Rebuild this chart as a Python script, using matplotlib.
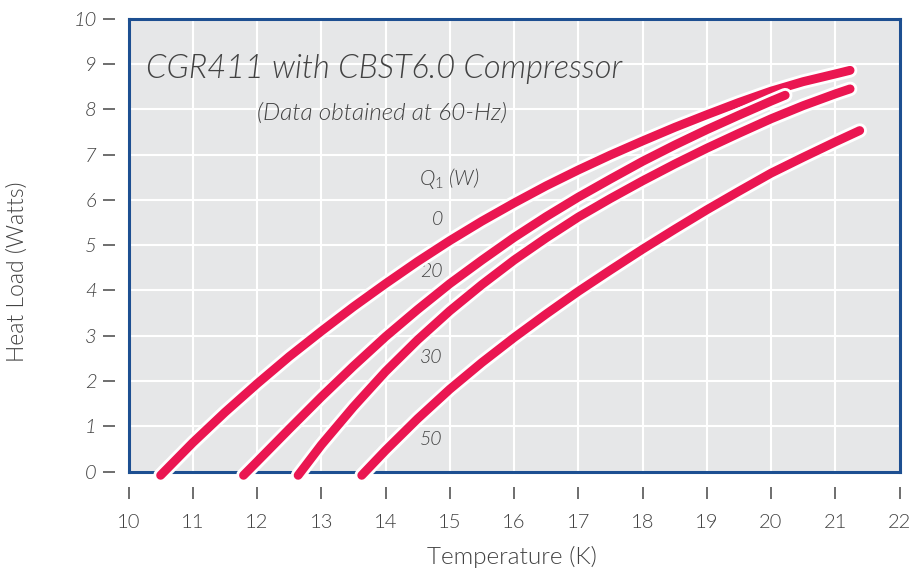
import matplotlib
matplotlib.use("Agg")
import matplotlib.pyplot as plt
import matplotlib.patheffects as pe

# Heat load curves (temperature K, heat load W)
t_q0 = [10.50, 11, 11.5, 12, 12.5, 13, 13.5, 14, 14.5, 15, 15.5, 16, 16.5,
        17, 17.5, 18, 18.5, 19, 19.5, 20, 20.5, 21, 21.23]
h_q0 = [-0.08, 0.64, 1.31, 1.94, 2.54, 3.10, 3.64, 4.15, 4.64, 5.10, 5.53,
        5.93, 6.31, 6.66, 6.99, 7.30, 7.60, 7.88, 8.15, 8.40, 8.61, 8.78, 8.86]

t_q20 = [11.79, 12, 12.5, 13, 13.5, 14, 14.5, 15, 15.5, 16, 16.5, 17, 17.5,
         18, 18.5, 19, 19.5, 20, 20.22]
h_q20 = [-0.08, 0.22, 0.94, 1.65, 2.33, 2.98, 3.58, 4.15, 4.67, 5.17, 5.63,
         6.06, 6.46, 6.85, 7.21, 7.55, 7.87, 8.18, 8.31]

t_q30 = [12.64, 13, 13.5, 14, 14.5, 15, 15.5, 16, 16.5, 17, 17.5, 18, 18.5,
         19, 19.5, 20, 20.5, 21, 21.23]
h_q30 = [-0.08, 0.59, 1.43, 2.21, 2.91, 3.55, 4.13, 4.67, 5.16, 5.62, 6.03,
         6.42, 6.79, 7.14, 7.47, 7.79, 8.08, 8.34, 8.45]

t_q50 = [13.63, 14, 14.5, 15, 15.5, 16, 16.5, 17, 17.5, 18, 18.5, 19, 19.5,
         20, 20.5, 21, 21.38]
h_q50 = [-0.08, 0.47, 1.17, 1.82, 2.41, 2.96, 3.48, 3.98, 4.45, 4.91, 5.35,
         5.78, 6.19, 6.59, 6.94, 7.28, 7.53]

curve_labels = ["0", "20", "30", "50"]
label_y = [5.56, 4.41, 2.53, 0.72]

x_ticks = list(range(10, 23))
y_ticks = list(range(0, 11))

FONT = "Lato"
GRAY = "#424242"
RED = "#ea1651"
BLUE = "#1d4f91"

plt.rcParams["font.family"] = [FONT, "DejaVu Sans"]
plt.rcParams["font.weight"] = 300
plt.rcParams["mathtext.fontset"] = "custom"
plt.rcParams["mathtext.it"] = FONT + ":italic"
plt.rcParams["mathtext.rm"] = FONT

fig = plt.figure(figsize=(9.14, 5.73), dpi=100)
ax = fig.add_axes([0.1406, 0.1768, 0.8436, 0.7906])
ax.set_facecolor("#e6e7e8")
ax.set_xlim(10, 22)
ax.set_ylim(0, 10)
ax.set_xticks(x_ticks)
ax.set_yticks(y_ticks)
ax.grid(True, color="white", linewidth=1.5)
ax.set_axisbelow(True)
ax.tick_params(length=0, labelbottom=False, labelleft=False)
for s in ax.spines.values():
    s.set_color(BLUE)
    s.set_linewidth(2.2)

outline = [pe.Stroke(linewidth=10.5, foreground="white"), pe.Normal()]
for t, h in [(t_q0, h_q0), (t_q20, h_q20), (t_q30, h_q30), (t_q50, h_q50)]:
    ax.plot(t, h, color=RED, linewidth=6.4, solid_capstyle="round",
            solid_joinstyle="round", clip_on=False, zorder=4,
            path_effects=outline)

# separated tick marks below / left of the box
sx = ax.secondary_xaxis(-0.033)
sx.set_xticks(x_ticks)
sx.tick_params(direction="out", length=8.5, width=1.2, color="#555555",
               pad=11, labelsize=14.5, labelcolor=GRAY)
sy = ax.secondary_yaxis(-0.017)
sy.set_yticks(y_ticks)
sy.tick_params(direction="out", length=8.5, width=1.2, color="#555555",
               pad=5, labelsize=14.5, labelcolor=GRAY)
for sp in list(sx.spines.values()) + list(sy.spines.values()):
    sp.set_visible(False)
for lab in sy.get_yticklabels():
    lab.set_fontstyle("italic")

ax.text(10.28, 8.89, "CGR411 with CBST6.0 Compressor", fontsize=23.5,
        style="italic", color=GRAY, ha="left", va="center")
ax.text(12.0, 7.91, "(Data obtained at 60-Hz)", fontsize=17.5,
        style="italic", color=GRAY, ha="left", va="center")
ax.text(14.52, 6.48, r"$Q_{\mathit{1}}$ (W)", fontsize=15,
        style="italic", color=GRAY, ha="left", va="center")
for lab, yy in zip(curve_labels, label_y):
    ax.text(14.89, yy, lab, fontsize=14, style="italic", color=GRAY,
            ha="right", va="center")

fig.text(512 / 914, 1 - 557 / 573, "Temperature (K)", fontsize=17.5,
         color=GRAY, ha="center", va="center")
fig.text(17 / 914, 1 - 272 / 573, "Heat Load (Watts)", fontsize=16.5,
         color=GRAY, ha="center", va="center", rotation=90)

fig.savefig("out.png", dpi=100)
